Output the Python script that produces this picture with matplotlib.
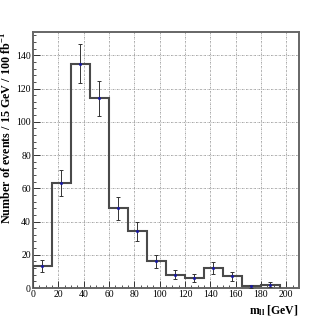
import matplotlib
matplotlib.use('Agg')
import matplotlib.pyplot as plt
import numpy as np

plt.rcParams['font.family'] = ['Liberation Serif', 'DejaVu Serif']
plt.rcParams['mathtext.fontset'] = 'custom'
plt.rcParams['mathtext.rm'] = 'Liberation Serif'
plt.rcParams['mathtext.bf'] = 'Liberation Serif:bold'

# histogram data: 15 GeV bins
bin_edges = [0, 15, 30, 45, 60, 75, 90, 105, 120, 135, 150, 165, 180, 195]
counts = [13, 63, 135, 114, 48, 34, 16, 8, 6, 12, 7, 1, 2]
errors = [3.6, 7.9, 11.6, 10.7, 6.9, 5.8, 4.0, 2.8, 2.4, 3.5, 2.6, 1.0, 1.4]

fig = plt.figure(figsize=(3.32, 3.2), dpi=100)
ax = fig.add_axes([0.0994, 0.1, 0.801, 0.8])

edges = np.array(bin_edges)
centers = 0.5 * (edges[:-1] + edges[1:])

ax.stairs(counts, edges, color='#4a4a4a', linewidth=1.5, zorder=3)
ax.errorbar(centers, counts, yerr=errors, fmt='o', markersize=1.2,
            color='#1a1aa0', ecolor='#333333', elinewidth=0.7, capsize=1.5,
            capthick=0.7, zorder=4)

ax.set_xlim(0, 210)
ax.set_ylim(0, 154)
ax.set_xticks(np.arange(0, 201, 20))
ax.set_yticks(np.arange(0, 141, 20))
ax.set_xticks(np.arange(0, 210, 5), minor=True)
ax.set_yticks(np.arange(0, 154, 4), minor=True)
ax.tick_params(which='both', direction='in', top=False, right=False,
               labelsize=7, color='#333333', pad=1.5)
ax.tick_params(which='major', length=5, width=0.7)
ax.tick_params(which='minor', length=2.5, width=0.6)
ax.grid(True, which='major', linestyle=(0, (2, 1.2, 0.6, 1.2)), color='#999999', linewidth=0.6)

for s in ax.spines.values():
    s.set_color('#666666')
    s.set_linewidth(1.4)

ax.set_xlabel(r'$\mathbf{m_{ll}}$ [GeV]', fontsize=8.5, fontweight='bold', loc='right', labelpad=3)
ax.set_ylabel(r'Number of events / 15 GeV / 100 fb$^{\mathbf{-1}}$', fontsize=8.7,
              fontweight='bold', loc='top', labelpad=1)

fig.savefig('out.png', dpi=100)
